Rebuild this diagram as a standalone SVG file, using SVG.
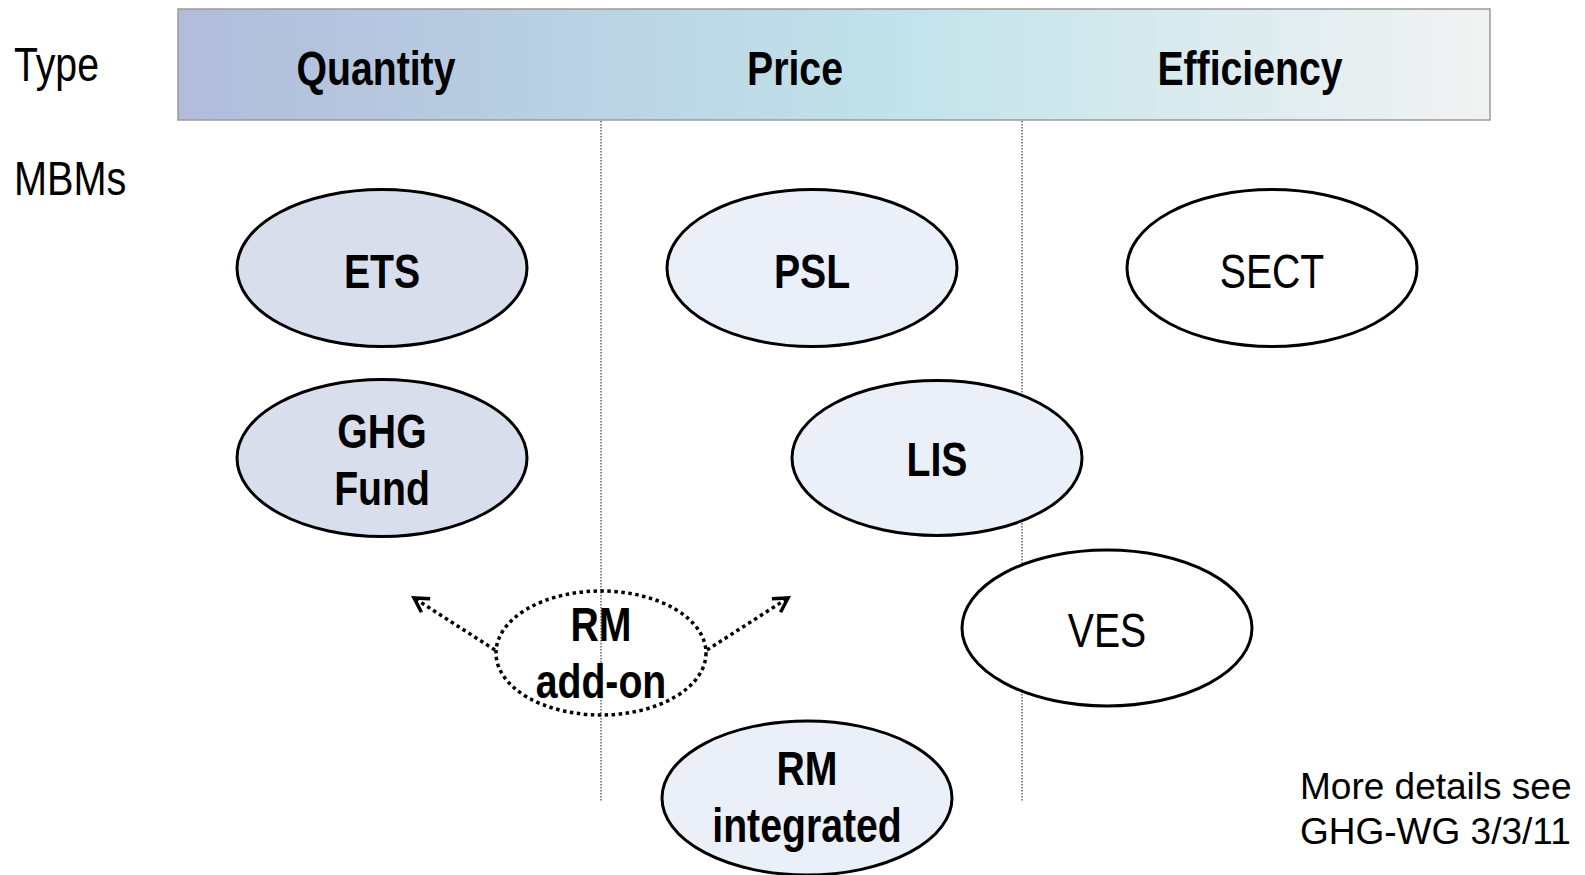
<svg xmlns="http://www.w3.org/2000/svg" width="1585" height="875" viewBox="0 0 1585 875">
<defs>
<linearGradient id="hdr" x1="0" y1="0" x2="1" y2="0">
<stop offset="0" stop-color="#b1bcda"/>
<stop offset="0.55" stop-color="#c1e3ea"/>
<stop offset="1" stop-color="#f2f2f2"/>
</linearGradient>
<marker id="arr" viewBox="0 0 20 20" refX="17" refY="10" markerWidth="20" markerHeight="20" markerUnits="userSpaceOnUse" orient="auto">
<path d="M3,2 L17,10 L3,18" fill="none" stroke="#000" stroke-width="3.5"/>
</marker>
<style>
.t{font-family:"Liberation Sans",Arial,sans-serif;font-size:49px;fill:#000}
.b{font-weight:bold}
.m{text-anchor:middle}
.e{stroke:#000;stroke-width:3}
.q{fill:#d9deec}
.p{fill:#eaeff8}
.w{fill:#fff}
.div{stroke:#8a8a8a;stroke-width:2;stroke-dasharray:1.5 1.5;fill:none}
.dot{stroke:#000;stroke-width:3.5;stroke-dasharray:3.5 3.5;fill:none}
.note{font-family:"Liberation Sans",Arial,sans-serif;font-size:37px;fill:#000}
</style>
</defs>
<rect width="1585" height="875" fill="#fff"/>
<g id="header">
<rect x="178" y="9" width="1312" height="111" fill="url(#hdr)" stroke="#9a9a9a" stroke-width="1.5"/>
<text class="t b m" transform="translate(376,85) scale(0.8,1)">Quantity</text>
<text class="t b m" transform="translate(795,85) scale(0.8,1)">Price</text>
<text class="t b m" transform="translate(1250,85) scale(0.8,1)">Efficiency</text>
</g>
<g id="labels">
<text class="t" transform="translate(14,81) scale(0.8,1)">Type</text>
<text class="t" transform="translate(14,195) scale(0.81,1)">MBMs</text>
</g>
<g id="dividers">
<line class="div" x1="601" y1="121" x2="601" y2="802"/>
<line class="div" x1="1022" y1="121" x2="1022" y2="802"/>
</g>
<g id="ETS">
<ellipse class="e q" cx="382" cy="268" rx="145" ry="78.5"/>
<text class="t b m" transform="translate(382,288) scale(0.8,1)">ETS</text>
</g>
<g id="GHGFund">
<ellipse class="e q" cx="382" cy="458" rx="145" ry="78.5"/>
<text class="t b m" transform="translate(382,448) scale(0.8,1)">GHG</text>
<text class="t b m" transform="translate(382,505) scale(0.8,1)">Fund</text>
</g>
<g id="PSL">
<ellipse class="e p" cx="812" cy="268" rx="145" ry="78.5"/>
<text class="t b m" transform="translate(812,288) scale(0.8,1)">PSL</text>
</g>
<g id="SECT">
<ellipse class="e w" cx="1272" cy="268" rx="145" ry="78.5"/>
<text class="t m" transform="translate(1272,288) scale(0.8,1)">SECT</text>
</g>
<g id="LIS">
<ellipse class="e p" cx="937" cy="458" rx="145" ry="77.5"/>
<text class="t b m" transform="translate(937,476) scale(0.8,1)">LIS</text>
</g>
<g id="VES">
<ellipse class="e w" cx="1107" cy="628" rx="145" ry="78"/>
<text class="t m" transform="translate(1107,647) scale(0.8,1)">VES</text>
</g>
<g id="RMaddon">
<ellipse class="dot" cx="601" cy="653" rx="105" ry="62" fill="#f1f1f1"/>
<text class="t b m" transform="translate(601,641) scale(0.8,1)">RM</text>
<text class="t b m" transform="translate(601,698) scale(0.8,1)">add-on</text>
</g>
<g id="RMintegrated">
<ellipse class="e p" cx="807" cy="798" rx="145" ry="77"/>
<text class="t b m" transform="translate(807,785) scale(0.8,1)">RM</text>
<text class="t b m" transform="translate(807,842) scale(0.8,1)">integrated</text>
</g>
<g id="connectors">
<line class="dot" x1="495" y1="650" x2="414" y2="598" marker-end="url(#arr)"/>
<line class="dot" x1="707" y1="650" x2="788" y2="598" marker-end="url(#arr)"/>
</g>
<g id="note">
<text class="note" x="1300" y="799">More details see</text>
<text class="note" x="1300" y="844">GHG-WG 3/3/11</text>
</g>
</svg>
